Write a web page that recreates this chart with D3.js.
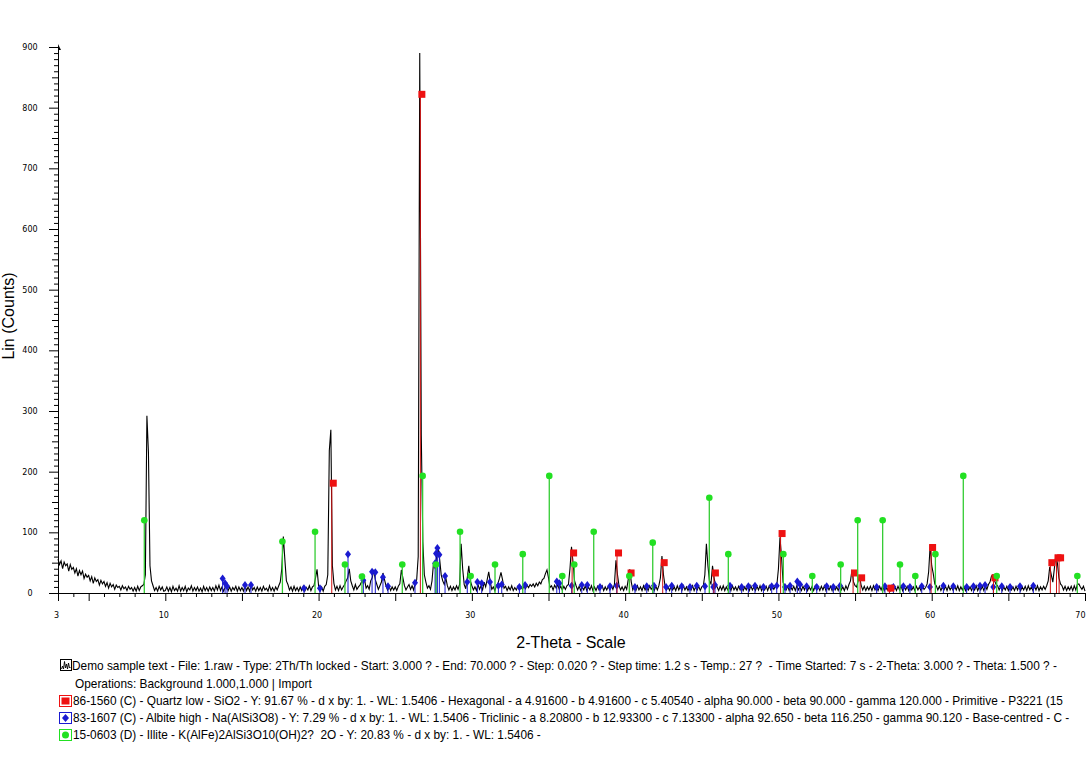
<!DOCTYPE html>
<html>
<head>
<meta charset="utf-8">
<script src="https://cdn.jsdelivr.net/npm/d3@7"></script>
<style>
  html, body { margin: 0; padding: 0; background: #fff; }
  svg { display: block; }
  .tick text { font-family: "DejaVu Sans", sans-serif; font-size: 8px; fill: #000; }
</style>
</head>
<body>
<svg id="chart" width="1086" height="778"></svg>
<script>
// ---- Data ----
const patternStart = 3.0;   // 2-Theta start
const patternStep = 0.1;    // 2-Theta step of the list below
const patternCounts = [
  56,47,53,40,51,45,48,36,47,39,   // 3
  42,33,40,28,37,30,36,24,31,26,   // 4
  29,20,27,16,25,19,22,13,21,15,   // 5
  19,11,17,8,16,10,14,6,13,9,      // 6
  11,5,12,7,10,4,11,6,9,3,         // 7
  9,3,11,4,10,12,14,30,292,232,    // 8
  45,20,12,4,9,3,11,5,10,3,        // 9
  4,10,3,9,2,11,4,8,3,12,          // 10
  3,9,4,11,2,8,5,12,3,9,           // 11
  4,10,3,8,2,11,4,9,3,10,          // 12
  4,9,3,12,5,13,4,10,3,9,          // 13
  12,4,10,3,9,5,11,3,10,4,         // 14
  9,3,12,4,10,3,13,5,9,3,          // 15
  10,4,9,3,11,5,8,3,12,4,          // 16
  9,3,10,5,12,18,40,93,55,20,      // 17
  14,5,10,3,11,4,9,3,10,4,         // 18
  11,3,9,5,12,4,10,12,25,39,       // 19
  12,4,10,3,11,14,30,235,269,45,   // 20
  16,5,11,4,12,5,10,14,20,25,      // 21
  40,20,12,5,14,6,10,13,18,30,     // 22
  22,8,12,6,20,25,38,22,14,6,      // 23
  12,18,33,22,12,5,11,4,10,5,      // 24
  10,4,11,15,38,25,12,5,10,14,     // 25
  6,12,5,16,22,60,890,260,85,30,   // 26
  18,8,12,6,20,50,40,60,76,55,     // 27
  30,20,14,25,12,5,11,4,10,5,      // 28
  12,6,14,81,40,14,7,25,45,20,     // 29
  12,5,10,4,14,6,12,5,18,10,       // 30
  22,35,18,6,10,4,12,16,24,34,     // 31
  22,8,11,4,10,5,12,4,9,5,         // 32
  11,5,10,6,12,7,13,9,14,11,       // 33
  15,10,16,12,18,15,22,24,32,38,   // 34
  25,9,12,5,13,8,14,6,11,5,        // 35
  11,6,12,14,40,76,50,20,12,5,     // 36
  11,4,10,5,12,4,10,5,12,4,        // 37
  10,4,11,5,9,12,4,10,5,11,        // 38
  5,12,6,14,54,30,12,5,10,4,       // 39
  11,6,22,39,18,5,11,4,12,5,       // 40
  10,4,12,5,11,4,12,6,10,4,        // 41
  11,5,12,25,61,30,12,5,10,4,      // 42
  11,5,10,4,12,5,11,4,12,5,        // 43
  10,4,11,5,12,4,10,5,11,4,        // 44
  10,12,30,81,45,20,15,45,25,12,   // 45
  10,4,11,5,12,4,10,5,11,4,        // 46
  12,5,10,4,11,5,12,4,10,5,        // 47
  11,4,12,5,10,4,11,5,12,4,        // 48
  10,5,11,4,12,5,10,6,11,14,       // 49
  40,92,60,18,12,5,11,4,10,5,      // 50
  11,4,12,5,10,4,11,5,12,4,        // 51
  10,5,11,4,12,5,10,4,11,5,        // 52
  12,4,10,5,11,4,12,5,10,4,        // 53
  11,5,10,4,12,6,14,20,38,18,      // 54
  12,10,20,27,12,5,11,4,10,5,      // 55
  11,4,12,5,10,4,11,5,12,4,        // 56
  10,5,11,4,12,5,10,4,11,5,        // 57
  12,4,10,5,11,4,12,5,10,4,        // 58
  11,5,10,4,12,6,9,15,35,79,       // 59
  45,32,15,12,5,11,4,10,5,11,      // 60
  4,12,5,10,4,11,5,12,4,10,        // 61
  5,11,4,12,5,10,4,11,5,12,        // 62
  4,10,5,11,4,12,6,14,18,28,       // 63
  30,20,14,12,5,11,4,10,5,11,      // 64
  4,12,5,10,4,11,5,12,4,10,        // 65
  5,11,4,12,5,10,4,11,5,12,        // 66
  4,10,5,11,6,12,20,43,30,18,      // 67
  40,63,49,25,15,12,5,11,4,10,     // 68
  5,11,4,12,5,14,15,10,6,11,       // 69
  3                                // 70
];

// 86-1560 Quartz low: [2-Theta, marker counts]
const quartzTheta  = [20.86, 26.64, 36.54, 39.47, 40.29, 42.45, 45.79, 50.14, 54.87, 55.33, 57.24, 59.96, 64.03, 67.74, 68.14, 68.31];
const quartzCounts = [181,   822,   66,    66,    33,    50,    33,    98,    33,    25,    8,     75,    25,    50,    58,    58];

// 83-1607 Albite high
const albiteTheta  = [13.74, 13.9, 14.03, 15.2, 15.59, 19.05, 20.09, 21.92, 22.92, 23.49, 23.7, 24.2, 24.53, 26.29, 27.6, 27.66, 27.75, 27.88, 28.25, 29.7, 30.36, 30.64, 31.18, 31.73, 31.95, 33.1, 33.47, 35.54, 35.71, 36.51, 37.17, 37.53, 38.36, 39.01, 39.45, 40.64, 41.41, 41.88, 42.67, 43.04, 43.69, 44.23, 44.67, 45.21, 45.75, 45.86, 46.84, 47.6, 48.04, 48.47, 49.02, 49.56, 49.89, 50.43, 50.76, 51.23, 51.41, 51.84, 52.5, 53.15, 53.58, 54.02, 56.41, 56.95, 57.5, 58.15, 58.58, 59.35, 59.89, 60.76, 61.41, 62.28, 62.72, 63.15, 63.48, 64.02, 64.57, 65.11, 65.76, 66.63];
const albiteCounts = [24,    16,   11,    13,   13,    8,     8,     64,    21,    35,    34,   26,   11,    17,    49,   65,    74,    63,    28,    18,   18,    16,    18,    12,    14,    10,   13,    19,    16,    12,    13,    13,    10,    11,    12,    10,    11,    12,    10,    12,    11,    10,    12,    11,    10,    13,    12,    10,   11,    12,    10,    11,    12,    10,    12,    19,    14,    11,    10,   11,    10,    12,    10,    11,    10,   11,    10,    11,    10,    12,    11,    10,    11,    12,    13,    10,    11,    10,    11,    12];

// 15-0603 Illite
const illiteTheta  = [8.63, 17.64, 19.77, 21.72, 22.83, 25.46, 26.79, 27.66, 29.23, 29.92, 31.51, 33.32, 35.05, 35.9, 36.68, 37.95, 40.27, 41.8, 45.49, 46.73, 50.32, 52.21, 54.06, 55.17, 56.8, 57.93, 58.93, 60.24, 62.06, 64.24, 69.5];
const illiteCounts = [120,  85,    101,   47,    27,    47,    193,   47,    101,   28,    47,    64,    193,   28,   47,    101,   28,    83,   157,   64,    64,    28,    47,    120,   120,  47,    28,    64,    193,   28,    28];

const xTicks = d3.range(3, 71);
const xLabelTicks = [3, 10, 20, 30, 40, 50, 60, 70];
const yTicks = d3.range(0, 901, 10);
const yLabelTicks = [0, 100, 200, 300, 400, 500, 600, 700, 800, 900];

const legendLines = [
  "Demo sample text - File: 1.raw - Type: 2Th/Th locked - Start: 3.000 ? - End: 70.000 ? - Step: 0.020 ? - Step time: 1.2 s - Temp.: 27 ?  - Time Started: 7 s - 2-Theta: 3.000 ? - Theta: 1.500 ? -",
  "Operations: Background 1.000,1.000 | Import",
  "86-1560 (C) - Quartz low - SiO2 - Y: 91.67 % - d x by: 1. - WL: 1.5406 - Hexagonal - a 4.91600 - b 4.91600 - c 5.40540 - alpha 90.000 - beta 90.000 - gamma 120.000 - Primitive - P3221 (15",
  "83-1607 (C) - Albite high - Na(AlSi3O8) - Y: 7.29 % - d x by: 1. - WL: 1.5406 - Triclinic - a 8.20800 - b 12.93300 - c 7.13300 - alpha 92.650 - beta 116.250 - gamma 90.120 - Base-centred - C -",
  "15-0603 (D) - Illite - K(AlFe)2AlSi3O10(OH)2?  2O - Y: 20.83 % - d x by: 1. - WL: 1.5406 -"
];

// ---- Drawing ----
const svg = d3.select("#chart");
const x = d3.scaleLinear().domain([3, 70]).range([58, 1085]);
const y = d3.scaleLinear().domain([0, 900]).range([593, 47]);

const RED = "#ee1111", BLUE = "#1a1ad0", GREEN = "#22e022", GREENLINE = "#33cc33";

// pattern
const pattern = patternCounts.map((c, i) => [patternStart + i * patternStep, c]);
svg.append("path")
  .datum(pattern)
  .attr("fill", "none")
  .attr("stroke", "#000")
  .attr("stroke-width", 1.1)
  .attr("d", d3.line().x(d => x(d[0])).y(d => y(d[1])));

function sticks(thetas, counts, color, width) {
  const g = svg.append("g");
  g.selectAll("line").data(thetas).join("line")
    .attr("x1", d => x(d)).attr("x2", d => x(d))
    .attr("y1", y(0)).attr("y2", (d, i) => y(counts[i]))
    .attr("stroke", color).attr("stroke-width", width);
  return g;
}

// Albite
sticks(albiteTheta, albiteCounts, BLUE, 1);
svg.append("g").selectAll("path").data(albiteTheta).join("path")
  .attr("transform", (d, i) => `translate(${x(d)},${y(albiteCounts[i])})`)
  .attr("d", "M0,-4L3,0L0,4L-3,0Z")
  .attr("fill", BLUE);

// Quartz
sticks(quartzTheta, quartzCounts, "#d01010", 1);
svg.append("g").selectAll("rect").data(quartzTheta).join("rect")
  .attr("x", d => x(d) - 2).attr("y", (d, i) => y(quartzCounts[i]) - 3.5)
  .attr("width", 7).attr("height", 7)
  .attr("fill", RED);

// Illite
sticks(illiteTheta, illiteCounts, GREENLINE, 1.3);
svg.append("g").selectAll("circle").data(illiteTheta).join("circle")
  .attr("cx", d => x(d)).attr("cy", (d, i) => y(illiteCounts[i]))
  .attr("r", 3.3)
  .attr("fill", GREEN);

// axes
const xAxisG = svg.append("g").attr("transform", `translate(0,${y(0)})`)
  .call(d3.axisBottom(x).tickValues(xTicks).tickSize(4).tickSizeOuter(0)
    .tickFormat(d => xLabelTicks.includes(d) ? d : ""));
xAxisG.selectAll(".tick line").attr("y2", d => (d % 5 === 0 || d === 3) ? 8 : 4);
xAxisG.selectAll(".tick text").attr("y", 19).attr("dx", -2)
  .filter(d => d === 70).attr("text-anchor", "end").attr("dx", 0);
xAxisG.select(".domain").attr("stroke", "#000");

const yAxisG = svg.append("g").attr("transform", `translate(${x(3)},0)`)
  .call(d3.axisLeft(y).tickValues(yTicks).tickSize(4).tickSizeOuter(0)
    .tickFormat(d => yLabelTicks.includes(d) ? d : ""));
yAxisG.selectAll(".tick line").attr("x2", d => d % 100 === 0 ? -9 : (d % 50 === 0 ? -6 : -4));
yAxisG.selectAll(".tick text").attr("x", -28).attr("text-anchor", "middle");
yAxisG.select(".domain").attr("stroke", "#000");
// small arrow head on top of y axis
svg.append("path")
  .attr("d", `M${x(3)},${y(900) - 3}L${x(3) + 3},${y(900) + 3}L${x(3)},${y(900) + 3}Z`)
  .attr("fill", "#000");

// axis titles
svg.append("text")
  .attr("transform", "translate(14,316) rotate(-90)")
  .attr("text-anchor", "middle")
  .style("font-family", "Liberation Sans, Arial, sans-serif")
  .style("font-size", "16px")
  .text("Lin (Counts)");
svg.append("text")
  .attr("x", 571).attr("y", 648)
  .attr("text-anchor", "middle")
  .style("font-family", "Liberation Sans, Arial, sans-serif")
  .style("font-size", "16px")
  .text("2-Theta - Scale");

// legend
const legendRowY = [670, 687.5, 705, 722, 739];
const legendX = [72, 75, 73, 73, 73];
const lg = svg.append("g")
  .style("font-family", "Liberation Sans, Arial, sans-serif")
  .style("font-size", "11.85px");
lg.selectAll("text").data(legendLines).join("text")
  .attr("x", (d, i) => legendX[i]).attr("y", (d, i) => legendRowY[i])
  .attr("xml:space", "preserve")
  .style("white-space", "pre")
  .text(d => d);

// legend icons
lg.append("rect").attr("x", 60.5).attr("y", 659.5).attr("width", 11).attr("height", 11)
  .attr("fill", "#fff").attr("stroke", "#000");
lg.append("path")
  .attr("d", "M61.5,669 L62.5,666 L63.5,669 L64.5,661.5 L65.5,668 L66.5,664 L67.5,669 L68.5,663 L69.5,668 L70.5,667")
  .attr("fill", "none").attr("stroke", "#000").attr("stroke-width", 0.9);

lg.append("rect").attr("x", 59.5).attr("y", 695.5).attr("width", 12).attr("height", 11)
  .attr("fill", "#fff").attr("stroke", RED);
lg.append("rect").attr("x", 61.5).attr("y", 697.5).attr("width", 8).attr("height", 7).attr("fill", RED);

lg.append("rect").attr("x", 59.5).attr("y", 712.5).attr("width", 12).attr("height", 11)
  .attr("fill", "#fff").attr("stroke", BLUE);
lg.append("path").attr("d", "M65.5,714L69,718L65.5,722L62,718Z").attr("fill", BLUE);

lg.append("rect").attr("x", 59.5).attr("y", 729.5).attr("width", 12).attr("height", 11)
  .attr("fill", "#fff").attr("stroke", GREEN);
lg.append("circle").attr("cx", 65.5).attr("cy", 735).attr("r", 3.5).attr("fill", GREEN);
</script>
</body>
</html>
